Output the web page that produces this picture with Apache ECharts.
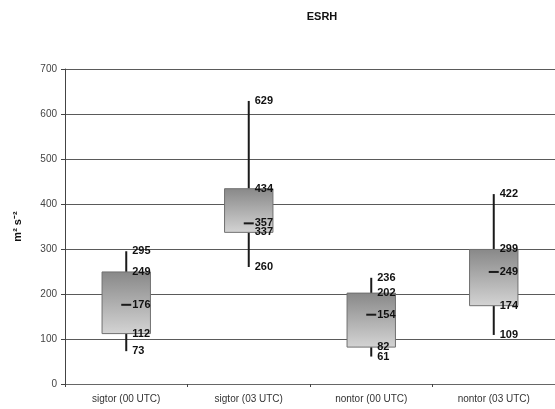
<!DOCTYPE html>
<html>
<head>
<meta charset="utf-8">
<script src="https://cdn.jsdelivr.net/npm/echarts@6/dist/echarts.min.js"></script>
<style>html,body{margin:0;padding:0;background:#fff}#c{width:555px;height:409px}</style>
</head>
<body>
<div id="c"></div>
<script>
var categories = ['sigtor (00 UTC)', 'sigtor (03 UTC)', 'nontor (00 UTC)', 'nontor (03 UTC)'];
var whiskerMax = [295, 629, 236, 422];
var boxTop = [249, 434, 202, 299];
var medianVals = [176, 357, 154, 249];
var boxBottom = [112, 337, 82, 174];
var whiskerMin = [73, 260, 61, 109];
var yTicks = [0, 100, 200, 300, 400, 500, 600, 700];

var data = categories.map(function (c, i) {
  return [i, whiskerMin[i], boxBottom[i], medianVals[i], boxTop[i], whiskerMax[i]];
});

var chart = echarts.init(document.getElementById('c'), null, {renderer: 'canvas'});

function renderItem(params, api) {
  var i = api.value(0);
  var pMin = api.coord([i, api.value(1)]);
  var pQ1 = api.coord([i, api.value(2)]);
  var pMed = api.coord([i, api.value(3)]);
  var pQ3 = api.coord([i, api.value(4)]);
  var pMax = api.coord([i, api.value(5)]);
  var band = api.size([1, 0])[0];
  var bw = band * 0.395;
  var cx = pMed[0];
  var lineStyle = {stroke: '#1a1a1a', lineWidth: 2};
  var children = [
    {type: 'line', shape: {x1: cx, y1: pMax[1], x2: cx, y2: pQ3[1]}, style: lineStyle},
    {type: 'line', shape: {x1: cx, y1: pQ1[1], x2: cx, y2: pMin[1]}, style: lineStyle},
    {type: 'rect', shape: {x: cx - bw / 2, y: pQ3[1], width: bw, height: pQ1[1] - pQ3[1]},
      style: {
        fill: new echarts.graphic.LinearGradient(0, 0, 0, 1, [
          {offset: 0, color: '#888888'},
          {offset: 1, color: '#d4d4d4'}
        ]),
        stroke: '#707070', lineWidth: 1
      }},
    {type: 'line', shape: {x1: cx - 5, y1: pMed[1], x2: cx + 5, y2: pMed[1]}, style: lineStyle}
  ];
  var vals = [api.value(5), api.value(4), api.value(3), api.value(2), api.value(1)];
  var pts = [pMax, pQ3, pMed, pQ1, pMin];
  for (var k = 0; k < vals.length; k++) {
    children.push({
      type: 'text',
      style: {
        x: cx + 6, y: pts[k][1], text: String(vals[k]),
        fill: '#111', font: 'bold 11px Arial, "Liberation Sans", sans-serif',
        verticalAlign: 'middle', align: 'left'
      }
    });
  }
  return {type: 'group', children: children};
}

chart.setOption({
  animation: false,
  backgroundColor: '#ffffff',
  title: {
    text: 'ESRH', left: 317, top: 6, textAlign: 'center',
    textStyle: {fontFamily: 'Arial, "Liberation Sans", sans-serif', fontWeight: 'bold', fontSize: 11, color: '#111'}
  },
  grid: {left: 65, right: -6, top: 69, bottom: 25, containLabel: false},
  xAxis: {
    type: 'category', data: categories,
    axisLine: {lineStyle: {color: '#666', width: 1}},
    axisTick: {show: true, length: 3, lineStyle: {color: '#444'}},
    axisLabel: {color: '#333', fontSize: 10, fontFamily: 'Arial, "Liberation Sans", sans-serif', margin: 10},
    splitLine: {show: false}
  },
  yAxis: {
    type: 'value', min: yTicks[0], max: yTicks[yTicks.length - 1], interval: 100,
    name: 'm\u00B2 s\u207B\u00B2', nameLocation: 'middle', nameGap: 42, nameRotate: 90,
    nameTextStyle: {fontFamily: 'Arial, "Liberation Sans", sans-serif', fontWeight: 'bold', fontSize: 11, color: '#111'},
    axisLine: {show: true, lineStyle: {color: '#444', width: 1}},
    axisTick: {show: true, length: 4, lineStyle: {color: '#444'}},
    axisLabel: {color: '#444', fontSize: 10, fontFamily: 'Arial, "Liberation Sans", sans-serif', margin: 8},
    splitLine: {show: true, lineStyle: {color: '#5a5a5a', width: 1}}
  },
  series: [{
    type: 'custom', renderItem: renderItem, data: data,
    encode: {x: 0, y: [1, 2, 3, 4, 5]}, clip: false
  }]
});
</script>
</body>
</html>
